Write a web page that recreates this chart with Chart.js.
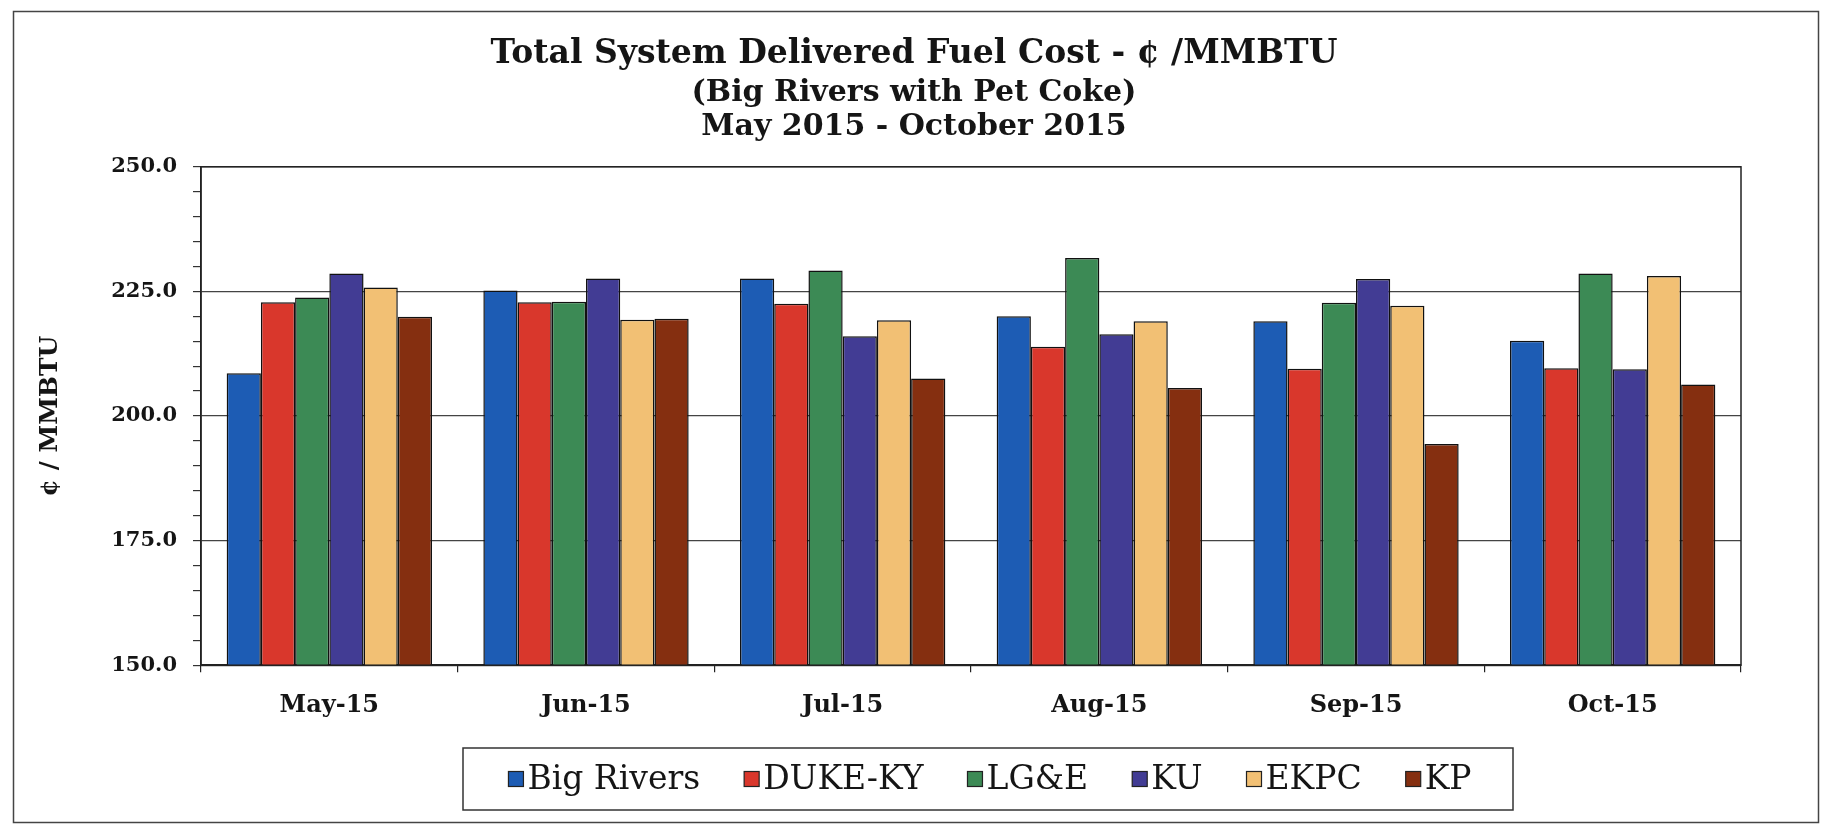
<!DOCTYPE html>
<html><head><meta charset="utf-8">
<script src="https://cdn.jsdelivr.net/npm/chart.js@4/dist/chart.umd.min.js"></script>
<style>html,body{margin:0;padding:0;background:#fff;}#wrap{width:1828px;height:827px;position:relative;}</style>
</head><body><div id="wrap"><canvas id="c" width="1828" height="827"></canvas></div>
<script>
const categories = ['May-15', 'Jun-15', 'Jul-15', 'Aug-15', 'Sep-15', 'Oct-15'];
const seriesNames = ['Big Rivers', 'DUKE-KY', 'LG&E', 'KU', 'EKPC', 'KP'];
const bigRivers = [208.6, 225.2, 227.6, 220.0, 219.0, 215.1];
const dukeKY    = [222.8, 222.8, 222.5, 213.9, 209.5, 209.6];
const lgE       = [223.8, 222.9, 229.2, 231.7, 222.7, 228.6];
const ku        = [228.6, 227.6, 216.0, 216.4, 227.5, 209.4];
const ekpc      = [225.8, 219.3, 219.2, 219.0, 222.1, 228.1];
const kp        = [219.9, 219.5, 207.5, 205.6, 194.4, 206.3];
const yTickLabels = [150, 175, 200, 225, 250];
const titleText = 'Total System Delivered Fuel Cost - ¢ /MMBTU';
const subtitleLines = ['(Big Rivers with Pet Coke)', 'May 2015 - October 2015'];
const yAxisTitle = '¢ / MMBTU';

const seriesValues = [bigRivers, dukeKY, lgE, ku, ekpc, kp];
const seriesColors = ['#1d5cb4', '#d9372c', '#3c8a55', '#423c94', '#f2c074', '#852f10'];
const SERIF = '"DejaVu Serif", "Liberation Serif", serif';

const decor = {
  id: 'decor',
  beforeDraw(chart) {
    const ctx = chart.ctx;
    ctx.save();
    ctx.fillStyle = '#fff';
    ctx.fillRect(0, 0, chart.width, chart.height);
    ctx.strokeStyle = '#444';
    ctx.lineWidth = 1.5;
    ctx.strokeRect(13.5, 11.5, 1805, 811);
    ctx.restore();
  },
  afterDraw(chart) {
    const ctx = chart.ctx;
    const a = chart.chartArea;
    ctx.save();
    ctx.strokeStyle = '#222';
    ctx.lineWidth = 1.5;
    ctx.strokeRect(a.left, a.top, a.right - a.left, a.bottom - a.top);
    // legend box
    const boxX = 463, boxY = 748, boxW = 1050, boxH = 62;
    ctx.strokeStyle = '#333';
    ctx.lineWidth = 1.5;
    ctx.strokeRect(boxX, boxY, boxW, boxH);
    ctx.font = '33px ' + SERIF;
    ctx.textBaseline = 'middle';
    ctx.textAlign = 'left';
    const sq = 15, gapText = 4, gapItem = 44;
    const items = chart.data.datasets.map(ds => ({label: ds.label, color: ds.backgroundColor, w: ctx.measureText(ds.label).width}));
    let total = 0;
    items.forEach((it, i) => { total += sq + gapText + it.w + (i < items.length - 1 ? gapItem : 0); });
    let x = boxX + boxW / 2 - total / 2 + 2;
    const cy = boxY + boxH / 2;
    items.forEach(it => {
      ctx.fillStyle = it.color;
      ctx.fillRect(x, cy - sq / 2, sq, sq);
      ctx.strokeStyle = '#222';
      ctx.lineWidth = 1.2;
      ctx.strokeRect(x, cy - sq / 2, sq, sq);
      ctx.fillStyle = '#151515';
      ctx.fillText(it.label, x + sq + gapText, cy + 1);
      x += sq + gapText + it.w + gapItem;
    });
    ctx.restore();
  }
};

new Chart(document.getElementById('c'), {
  type: 'bar',
  data: {
    labels: categories,
    datasets: seriesNames.map((name, i) => ({
      label: name,
      data: seriesValues[i],
      backgroundColor: seriesColors[i],
      borderColor: '#111',
      borderWidth: 1.5,
      borderSkipped: false,
      categoryPercentage: 0.8,
      barPercentage: 1.0
    }))
  },
  options: {
    responsive: false,
    animation: false,
    devicePixelRatio: 1,
    layout: {padding: {top: 0, left: 87, right: 87, bottom: 88}},
    plugins: {
      legend: {display: false},
      tooltip: {enabled: false},
      title: {
        display: true,
        text: titleText,
        color: '#151515',
        font: {family: SERIF, size: 33, weight: 'bold', lineHeight: 1.2},
        padding: {top: 35, bottom: 0}
      },
      subtitle: {
        display: true,
        text: subtitleLines,
        color: '#151515',
        font: {family: SERIF, size: 30, weight: 'bold', lineHeight: 1.12},
        padding: {top: 2, bottom: 23}
      }
    },
    scales: {
      x: {
        grid: {display: true, offset: true, drawOnChartArea: false, tickLength: 7, color: '#222', lineWidth: 1.2},
        border: {display: true, color: '#222', width: 1.5},
        ticks: {color: '#151515', padding: 19, font: {family: SERIF, size: 24, weight: 'bold'}}
      },
      y: {
        min: 150,
        max: 250,
        afterFit(scale) { scale.width = 114; },
        border: {display: true, color: '#222', width: 1.5},
        grid: {
          drawOnChartArea: true,
          tickLength: 8,
          color: c => (yTickLabels.includes(c.tick.value) ? '#444' : 'rgba(0,0,0,0)'),
          tickColor: '#333',
          lineWidth: 1.2
        },
        ticks: {
          stepSize: 5,
          autoSkip: false,
          padding: 16,
          color: '#151515',
          font: {family: SERIF, size: 21, weight: 'bold'},
          callback: v => (yTickLabels.includes(v) ? v.toFixed(1) : '')
        },
        title: {
          display: true,
          text: yAxisTitle,
          color: '#151515',
          font: {family: SERIF, size: 25, weight: 'bold', lineHeight: 1.2},
          padding: {top: -52, bottom: 0}
        }
      }
    }
  },
  plugins: [decor]
});
</script></body></html>
